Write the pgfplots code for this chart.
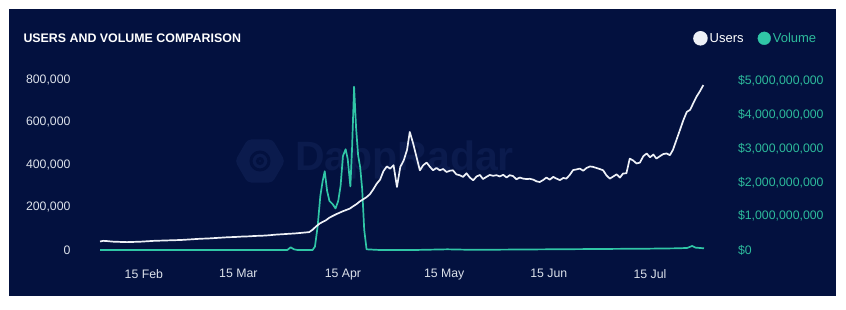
\documentclass[border=0pt]{standalone}
\usepackage{pgfplots}
\pgfplotsset{compat=1.18}
\usepackage{fontspec}
\setmainfont{Liberation Sans}
\definecolor{navy}{HTML}{03113F}
\definecolor{teal1}{HTML}{30C6A6}
\definecolor{tealtxt}{HTML}{2DBB9C}
\definecolor{lbl}{HTML}{DCE1EA}
\definecolor{wm}{HTML}{0B1B4D}
\definecolor{userline}{HTML}{EEF1F7}

\pgfplotstableread{
d v
-13 0
0 0
20 0
40 0
42.5 0
43.5 0.08
44.5 0.02
45.5 0
50 0
50.7 0.1
51.5 0.7
52.3 1.6
53 2.05
53.6 2.33
54.3 1.75
55 1.45
56 1.35
56.8 1.23
57.6 1.45
58.3 1.9
59 2.78
59.8 2.98
60.4 2.7
61.2 1.88
61.7 3.0
62.3 4.83
62.9 3.6
63.5 2.8
64.1 2.45
64.7 1.8
65.3 0.6
66 0.02
70 0
80 0
90 0.02
95 0.01
105 0.01
120 0.02
135 0.03
150 0.04
158 0.05
161 0.06
162.5 0.12
163.5 0.07
166 0.05
}\voltable

\pgfplotstableread{
d u
-13 40
-12 43
-11 42
-9 39
-7 38
-5 37
-3 38
-1 39
1 41
3 43
5 44
7 45
9 46
11 47
13 49
15 51
17 53
19 54
21 56
23 58
25 60
27 61
29 63
31 64
33 66
35 67
37 69
39 72
41 74
43 76
45 78
47 81
49 84
50 95
51 110
52 123
53 132
54 140
55 152
56 160
57 168
58 175
59 182
60 188
61 194
62 205
63 215
64 228
65 238
66 248
67 262
68 285
69 311
70 330
71 370
72 392
73 382
74 398
75 296
76 390
77 420
78 470
78.8 554
79.8 500
80.8 437
81.8 374
82.8 398
83.8 410
84.8 390
85.7 374
86.7 385
87.7 374
88.7 380
89.7 366
90.7 372
91.6 374
92.6 355
93.6 351
94.6 343
95.6 360
96.6 340
97.6 327
98.6 345
99.6 352
100.5 333
101.5 343
102.5 352
103.5 348
104.5 351
105.5 345
106.5 353
107.5 340
108.4 351
109.4 347
110.4 332
111.4 340
112.4 335
113.4 333
114.4 334
115.4 330
116.4 322
117.3 319
118.3 328
119.3 340
120.3 330
121.3 343
122.3 335
123.3 328
124.3 338
125.2 335
126.2 352
127.2 375
128.2 378
129.2 382
130.2 372
131.2 385
132.2 392
133.1 390
134.1 385
135.1 380
136.1 374
137.1 350
138.1 335
139.1 345
140.1 355
141.1 340
142 359
143 360
144 429
145 420
146 406
147 410
148 440
149 453
150 435
151 448
151.9 429
152.9 440
153.9 450
154.9 453
155.9 445
156.8 470
157.8 515
158.8 560
159.9 610
160.9 648
161.9 658
162.8 688
163.8 720
164.8 745
165.8 774
}\usertable

\begin{document}
\begin{tikzpicture}
\useasboundingbox (0pt,0pt) rectangle (846pt,309pt);
\fill[white] (0pt,0pt) rectangle (846pt,309pt);
\fill[navy] (9pt,13pt) rectangle (836pt,300pt);
% watermark
\fill[wm, rounded corners=4pt] (285pt,148pt) -- (272.5pt,169.6pt) -- (247.5pt,169.6pt) -- (235pt,148pt) -- (247.5pt,126.4pt) -- (272.5pt,126.4pt) -- cycle;
\draw[navy, line width=3pt] (260pt,148pt) circle (9pt);
\draw[navy, line width=3pt] (260pt,148pt) circle (2.5pt);
\node[wm, font=\fontsize{41}{41}\selectfont\bfseries, anchor=west, inner sep=0pt] at (295pt,149pt) {DappRadar};
% title
\node[anchor=west, text=white, font=\fontsize{12.4}{14}\selectfont\bfseries, inner sep=0pt] at (23.3pt,270.5pt) {USERS AND VOLUME COMPARISON};

\begin{axis}[
  at={(100pt,59pt)}, anchor=south west,
  scale only axis, width=604pt, height=170.5pt,
  xmin=-13, xmax=166, ymin=0, ymax=5.044,
  axis x line=none,
  axis y line*=right,
  axis line style={draw=none},
  major tick length=0pt,
  ytick={0,1,2,3,4,5},
  yticklabels={\$0,{\$1,000,000,000},{\$2,000,000,000},{\$3,000,000,000},{\$4,000,000,000},{\$5,000,000,000}},
  yticklabel style={anchor=west, xshift=30.5pt, text=tealtxt, font=\fontsize{12.3}{14}\selectfont},
]
\addplot[teal1, line width=1.7pt, line join=round] table[x=d, y=v] {\voltable};
\end{axis}

\begin{axis}[
  at={(100pt,59pt)}, anchor=south west,
  scale only axis, width=604pt, height=170.5pt,
  xmin=-13, xmax=166, ymin=0, ymax=800,
  axis x line*=bottom, axis y line*=left,
  axis line style={draw=none},
  major tick length=0pt,
  xtick={0,28,59,89,120,150},
  xticklabels={15 Feb,15 Mar,15 Apr,15 May,15 Jun,15 Jul},
  ytick={0,200,400,600,800},
  yticklabels={0,{200,000},{400,000},{600,000},{800,000}},
  ticklabel style={text=lbl, font=\fontsize{12.3}{14}\selectfont},
  yticklabel style={xshift=-26pt},
  xticklabel style={yshift=-16pt},
  legend columns=2,
  legend image code/.code={\fill (0pt,0pt) circle (6.4pt);},
  legend style={draw=none, fill=none, text=white, at={(0.9818,1.2417)}, anchor=west,
    font=\fontsize{13}{15}\selectfont, inner sep=0pt,
    /tikz/every even column/.append style={column sep=12pt}},
]
\addplot[userline, line width=1.7pt, line join=round] table[x=d, y=u] {\usertable};
\addlegendentry{Users}
\addlegendimage{teal1}
\addlegendentry[text=tealtxt]{Volume}
\end{axis}
\end{tikzpicture}
\end{document}
